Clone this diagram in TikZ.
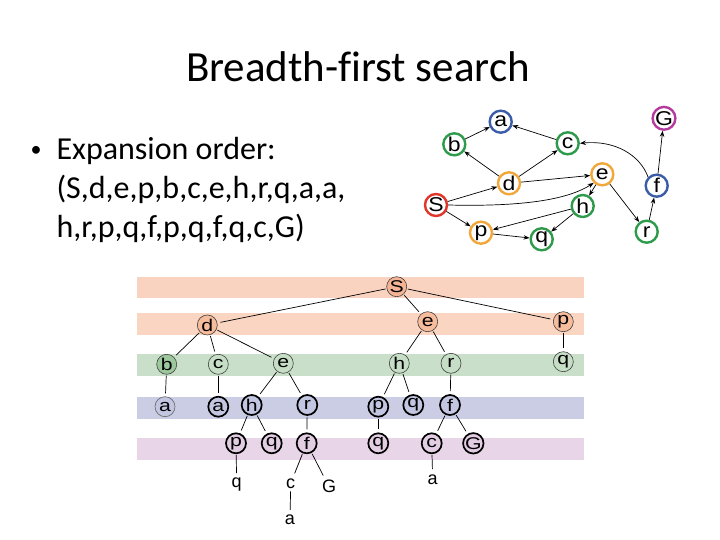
\documentclass[tikz,border=0pt]{standalone}
\usepackage{fontspec}
\setmainfont{Carlito}[Ligatures=NoCommon]
\newfontfamily\arialfont{Liberation Sans}
\newfontfamily\graphfont{Liberation Sans}[FakeStretch=1.15]
\newfontfamily\treefont{Liberation Sans}[FakeStretch=1.25]
\usetikzlibrary{arrows.meta,positioning}

\definecolor{gred}{HTML}{E0352B}
\definecolor{gorange}{HTML}{F2A73B}
\definecolor{ggreen}{HTML}{2E9A4C}
\definecolor{gblue}{HTML}{3B5DA8}
\definecolor{gpurple}{HTML}{B43C9E}
\definecolor{bandone}{HTML}{F9D2C0}
\definecolor{bandtwo}{HTML}{FAD5C1}
\definecolor{bandthree}{HTML}{C9DFC9}
\definecolor{bandfour}{HTML}{CACDE4}
\definecolor{bandfive}{HTML}{E9D5E8}
\definecolor{fillS}{HTML}{F4B395}
\definecolor{fillsalmon}{HTML}{F6BC9C}
\definecolor{fillgreen}{HTML}{C6DDC6}
\definecolor{filldark}{HTML}{9DC79D}
\definecolor{filllav}{HTML}{C3C6E0}
\definecolor{fillpink}{HTML}{E2CDE2}

\begin{document}
\begin{tikzpicture}[x=1pt,y=-1pt,
  gnode/.style={circle,draw,line width=2.4pt,minimum size=22pt,inner sep=0pt,
    font=\graphfont\fontsize{20}{20}\selectfont},
  garrow/.style={-{Stealth[length=6pt,width=4.5pt]},line width=0.7pt},
  tnode/.style={circle,draw=black!75,line width=0.6pt,minimum size=20pt,inner sep=0pt,
    font=\treefont\fontsize{17}{17}\selectfont},
  tbold/.style={tnode,draw=black,line width=1.7pt},
  tleaf/.style={inner sep=2pt,font=\arialfont\fontsize{18}{18}\selectfont},
  tedge/.style={line width=0.7pt,shorten >=3pt,shorten <=1pt}]
  \useasboundingbox (0,0) rectangle (720,540);

  % Title
  \node[anchor=base,font=\fontsize{43}{43}\selectfont] (title) at (358,82) {Breadth-first search};

  % Bullet text
  \node[anchor=base west,font=\fontsize{22}{22}\selectfont] (bul) at (27,157) {•};
  \node[anchor=base west,font=\fontsize{32}{32}\selectfont] (line1) at (53,160) {Expansion order:};
  \node[anchor=base west,font=\fontsize{32}{32}\selectfont] (line2) at (53,199) {(S,d,e,p,b,c,e,h,r,q,a,a,};
  \node[anchor=base west,font=\fontsize{32}{32}\selectfont] (line3) at (53,237) {h,r,p,q,f,p,q,f,q,c,G)};

  % State graph
  \node[gnode,draw=gblue] (ga) at (500.7,121.7) {a};
  \node[gnode,draw=ggreen] (gb) at (454.3,144.3) {b};
  \node[gnode,draw=ggreen] (gc) at (567.7,143.3) {c};
  \node[gnode,draw=gpurple] (gG) at (664,118.3) {G};
  \node[gnode,draw=gorange] (ge) at (602.3,174.3) {e};
  \node[gnode,draw=gorange] (gd) at (509,183.3) {d};
  \node[gnode,draw=gblue] (gf) at (656.7,185.7) {f};
  \node[gnode,draw=gred] (gS) at (436,205) {S};
  \node[gnode,draw=ggreen] (gh) at (582.7,206) {h};
  \node[gnode,draw=gorange] (gp) at (481,232.7) {p};
  \node[gnode,draw=ggreen] (gq) at (541.7,239.3) {q};
  \node[gnode,draw=ggreen] (gr) at (646.7,231.7) {r};

  \draw[garrow] (gb) -- (ga);
  \draw[garrow] (gc) -- (ga);
  \draw[garrow] (gd) -- (gb);
  \draw[garrow] (gd) -- (gc);
  \draw[garrow] (gd) -- (ge);
  \draw[garrow] (gS) -- (gd);
  \draw[garrow] (gS.east) .. controls (530,207) and (570,198) .. (ge.south west);
  \draw[garrow] (gS) -- (gp);
  \draw[garrow] (ge) -- (gh);
  \draw[garrow] (ge) -- (gr);
  \draw[garrow] (gh) -- (gp);
  \draw[garrow] (gh) -- (gq);
  \draw[garrow] (gp) -- (gq);
  \draw[garrow] (gr) -- (gf);
  \draw[garrow] (gf) -- (gG);
  \draw[garrow] (gf.north west) .. controls (640,155) and (615,140) .. (gc.east);

  % Bands
  \fill[bandone] (137,277.3) rectangle (584,298.3);
  \fill[bandtwo] (137,313.3) rectangle (584,335);
  \fill[bandthree] (137,354) rectangle (584,376);
  \fill[bandfour] (137,396.7) rectangle (584,419);
  \fill[bandfive] (137,438.3) rectangle (584,460);

  % Search tree
  \node[tnode,fill=fillS] (tS) at (396.7,286.7) {S};
  \node[tnode,fill=fillsalmon] (td) at (207.3,325) {d};
  \node[tnode,fill=fillsalmon] (te) at (427.7,321.7) {e};
  \node[tnode,fill=fillsalmon] (tp) at (563.3,321.7) {p};
  \node[tnode,fill=filldark] (tb) at (166.7,364.3) {b};
  \node[tnode,fill=fillgreen] (tc) at (218.3,364.3) {c};
  \node[tnode,fill=fillgreen] (te2) at (283.3,363.3) {e};
  \node[tnode,fill=fillgreen] (th) at (399.3,363.3) {h};
  \node[tnode,fill=fillgreen] (tr) at (451,363.3) {r};
  \node[tnode,fill=fillgreen] (tq) at (563.3,361.7) {q};
  \node[tnode,draw=black!60,fill=filllav] (ta1) at (165,406.7) {a};
  \node[tbold,fill=filllav] (ta2) at (218.3,406.7) {a};
  \node[tbold,fill=filllav] (th2) at (251.7,405) {h};
  \node[tbold,fill=filllav] (tr2) at (307.3,405) {r};
  \node[tbold,fill=filllav] (tp2) at (378.3,406.7) {p};
  \node[tbold,fill=filllav] (tq2) at (413.3,405) {q};
  \node[tbold,fill=filllav] (tf2) at (450,405) {f};
  \node[tbold,fill=fillpink] (tp3) at (236,443.3) {p};
  \node[tbold,fill=fillpink] (tq3) at (271.7,443.3) {q};
  \node[tbold,fill=fillpink] (tf3) at (306.7,443.3) {f};
  \node[tbold,fill=fillpink] (tq4) at (378.3,443.3) {q};
  \node[tbold,fill=fillpink] (tc4) at (431.7,443.3) {c};
  \node[tbold,fill=fillpink] (tG4) at (473.3,443.3) {G};
  \node[tleaf] (lq) at (236.7,485) {q};
  \node[tleaf] (lc) at (290.7,483.3) {c};
  \node[tleaf] (lG) at (329,486.7) {G};
  \node[tleaf] (la) at (290,520) {a};
  \node[tleaf] (la2) at (432.7,479.3) {a};

  \draw[tedge] (tS) -- (td);
  \draw[tedge] (tS) -- (te);
  \draw[tedge] (tS) -- (tp);
  \draw[tedge] (td) -- (tb);
  \draw[tedge] (td) -- (tc);
  \draw[tedge] (td) -- (te2);
  \draw[tedge] (te) -- (th);
  \draw[tedge] (te) -- (tr);
  \draw[tedge] (tp) -- (tq);
  \draw[tedge] (tb) -- (ta1);
  \draw[tedge] (tc) -- (ta2);
  \draw[tedge] (te2) -- (th2);
  \draw[tedge] (te2) -- (tr2);
  \draw[tedge] (th) -- (tp2);
  \draw[tedge] (th) -- (tq2);
  \draw[tedge] (tr) -- (tf2);
  \draw[tedge] (th2) -- (tp3);
  \draw[tedge] (th2) -- (tq3);
  \draw[tedge] (tr2) -- (tf3);
  \draw[tedge] (tp2) -- (tq4);
  \draw[tedge] (tf2) -- (tc4);
  \draw[tedge] (tf2) -- (tG4);
  \draw[tedge] (tp3) -- (lq);
  \draw[tedge] (tf3) -- (lc);
  \draw[tedge] (tf3) -- (lG);
  \draw[tedge] (lc) -- (la);
  \draw[tedge] (tc4) -- (la2);
\end{tikzpicture}
\end{document}
